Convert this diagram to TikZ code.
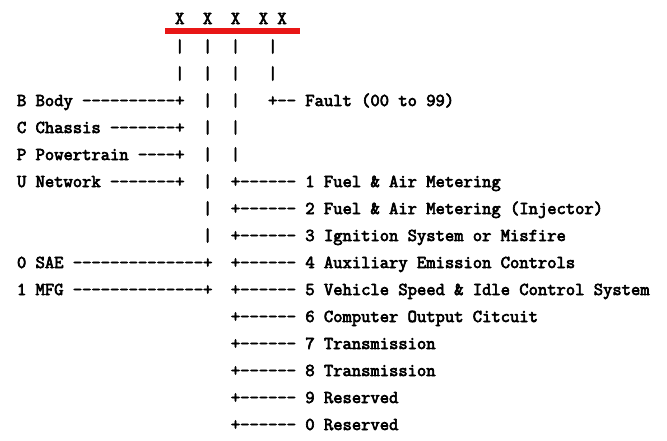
\documentclass[tikz,border=0pt]{standalone}
\usepackage{fontspec}
\setmonofont{Latin Modern Mono}[FakeBold=3.5]
\definecolor{redbar}{RGB}{232,22,22}
\tikzset{
  tok/.style={anchor=base west, inner sep=0pt, outer sep=0pt,
    font=\ttfamily\fontsize{13.55pt}{15pt}\selectfont, text=black},
  redline/.style={fill=redbar, draw=none}
}
% #1 name, #2 column, #3 row, #4 text
\newcommand\tk[4]{\node[tok] (#1) at ({17+#2*9.3},{106+#3*27}) {#4};}
\begin{document}
\begin{tikzpicture}[x=0.75pt,y=-0.75pt]
\useasboundingbox[fill=white] (0,0) rectangle (667,440);
% code letters
\node[tok] (x1) at ({17+17*9.3},24) {X};
\node[tok] (x2) at ({17+20*9.3},24) {X};
\node[tok] (x3) at ({17+23*9.3},24) {X};
\node[tok] (x4) at ({17+26*9.3},24) {X};
\node[tok] (x5) at ({17+28*9.3},24) {X};
\coordinate (rl) at (165,28);
\coordinate (rr) at (300,33.5);
\path[redline] (rl) rectangle (rr);
% vertical bars under the letters
\tk{va1}{17}{-2}{|} \tk{va2}{20}{-2}{|} \tk{va3}{23}{-2}{|} \tk{va4}{27}{-2}{|}
\tk{vb1}{17}{-1}{|} \tk{vb2}{20}{-1}{|} \tk{vb3}{23}{-1}{|} \tk{vb4}{27}{-1}{|}
% row 0
\tk{body}{0}{0}{B Body ----------+}
\tk{v02}{20}{0}{|} \tk{v03}{23}{0}{|}
\tk{fault}{27}{0}{+-- Fault (00 to 99)}
% row 1
\tk{chassis}{0}{1}{C Chassis -------+}
\tk{v12}{20}{1}{|} \tk{v13}{23}{1}{|}
% row 2
\tk{power}{0}{2}{P Powertrain ----+}
\tk{v22}{20}{2}{|} \tk{v23}{23}{2}{|}
% row 3
\tk{network}{0}{3}{U Network -------+}
\tk{v32}{20}{3}{|}
\tk{s1}{23}{3}{+------ 1 Fuel \& Air Metering}
% row 4
\tk{v42}{20}{4}{|}
\tk{s2}{23}{4}{+------ 2 Fuel \& Air Metering (Injector)}
% row 5
\tk{v52}{20}{5}{|}
\tk{s3}{23}{5}{+------ 3 Ignition System or Misfire}
% row 6
\tk{sae}{0}{6}{0 SAE --------------+}
\tk{s4}{23}{6}{+------ 4 Auxiliary Emission Controls}
% row 7
\tk{mfg}{0}{7}{1 MFG --------------+}
\tk{s5}{23}{7}{+------ 5 Vehicle Speed \& Idle Control System}
% rows 8-12
\tk{s6}{23}{8}{+------ 6 Computer Output Citcuit}
\tk{s7}{23}{9}{+------ 7 Transmission}
\tk{s8}{23}{10}{+------ 8 Transmission}
\tk{s9}{23}{11}{+------ 9 Reserved}
\tk{s0}{23}{12}{+------ 0 Reserved}
\end{tikzpicture}
\end{document}
